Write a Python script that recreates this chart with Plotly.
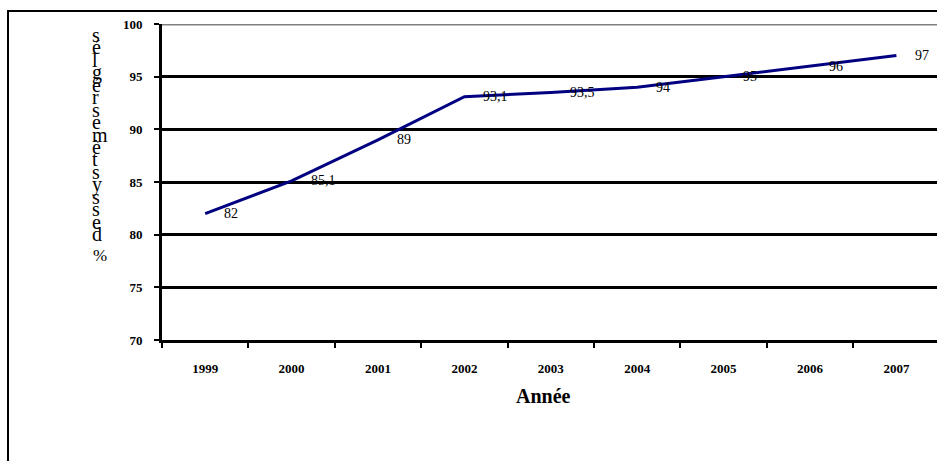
import plotly.graph_objects as go

years = ["1999", "2000", "2001", "2002", "2003", "2004", "2005", "2006", "2007"]
values = [82, 85.1, 89, 93.1, 93.5, 94, 95, 96, 97]
value_labels = ["82", "85,1", "89", "93,1", "93,5", "94", "95", "96", "97"]
y_ticks = [70, 75, 80, 85, 90, 95, 100]
x_title = "Année"
y_title = "% des systèmes réglés"

W, H = 937, 461
L, T, B = 162, 24, 121
PW, PH = W - L, H - T - B
FONT = "Liberation Serif"


def px_x(x):
    return (x - L) / PW


def px_y(y):
    return (H - B - y) / PH


fig = go.Figure()
fig.add_trace(go.Scatter(
    x=years, y=values, mode="lines",
    line=dict(color="#000080", width=3), hoverinfo="skip"))

fig.update_layout(
    width=W, height=H,
    margin=dict(l=L, r=0, t=T, b=B, pad=0),
    paper_bgcolor="white", plot_bgcolor="white",
    showlegend=False,
    font=dict(family=FONT, color="black"),
)

fig.update_xaxes(
    type="category", range=[-0.5, 8.47],
    showline=True, linecolor="black", linewidth=3,
    ticks="outside", tickson="boundaries", ticklen=5, tickwidth=2, tickcolor="black",
    showgrid=False, zeroline=False,
    tickfont=dict(size=13, family=FONT, color="black", weight="bold"),
    ticklabelstandoff=14,
)
fig.update_yaxes(
    range=[70, 100], tickvals=y_ticks,
    showline=True, linecolor="black", linewidth=3,
    ticks="outside", ticklen=5, tickwidth=2, tickcolor="black",
    showgrid=True, gridcolor="black", gridwidth=3, zeroline=False,
    tickfont=dict(size=13, family=FONT, color="black", weight="bold"),
    ticklabelstandoff=9,
)

# gray top border of plot area at 100
fig.add_shape(type="line", xref="paper", yref="y", x0=0, x1=1, y0=100, y1=100,
              line=dict(color="#808080", width=3), layer="above")
# outer chart frame (extends beyond the visible window)
fig.add_shape(type="rect", xref="paper", yref="paper",
              x0=px_x(8), x1=px_x(960), y0=px_y(11), y1=px_y(480),
              line=dict(color="black", width=2), fillcolor="rgba(0,0,0,0)", layer="above")

# data labels (x given as category index)
for i, (v, lab) in enumerate(zip(values, value_labels)):
    fig.add_annotation(x=i, y=v, xref="x", yref="y", text=lab, showarrow=False,
                       xanchor="left", yanchor="middle", xshift=17,
                       font=dict(size=14, family=FONT, color="black"))

# x axis title
fig.add_annotation(xref="paper", yref="paper", x=px_x(543), y=px_y(396),
                   text=x_title, showarrow=False, xanchor="center", yanchor="middle",
                   font=dict(size=20, family=FONT, color="black", weight="bold"))

# stacked, reversed y title letters
chars = list(reversed(y_title))
letters = [c for c in chars if c != " " and c != "%"]
n = len(letters)
for i, c in enumerate(letters):
    ypx = 35 + i * (234 - 35) / (n - 1)
    fig.add_annotation(xref="paper", yref="paper", x=px_x(90), y=px_y(ypx),
                       text=c, showarrow=False, xanchor="left", yanchor="middle",
                       font=dict(size=20, family=FONT, color="black"))
fig.add_annotation(xref="paper", yref="paper", x=px_x(91), y=px_y(255),
                   text="%", showarrow=False, xanchor="left", yanchor="middle",
                   font=dict(size=17, family=FONT, color="black"))

fig.write_html("out.html")
